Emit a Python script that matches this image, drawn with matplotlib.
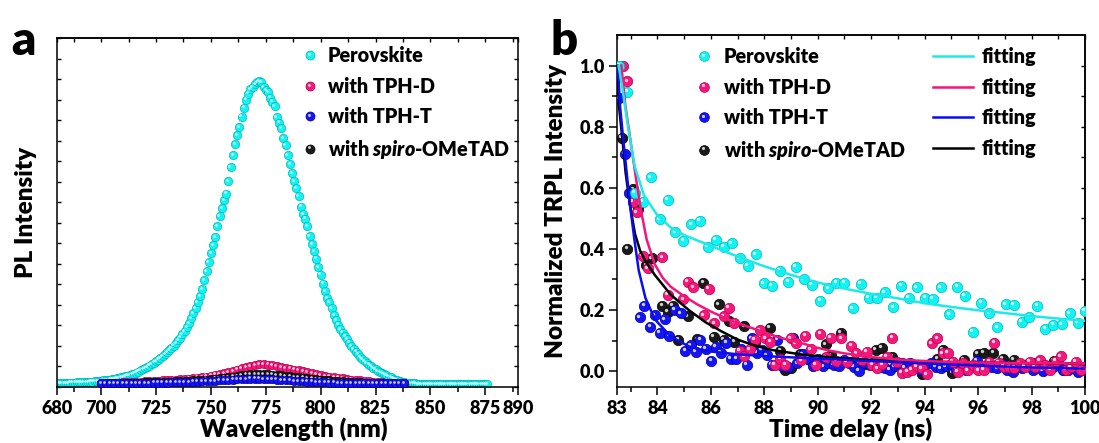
import numpy as np
import matplotlib
matplotlib.use("Agg")
import matplotlib.pyplot as plt
from matplotlib.transforms import offset_copy
from matplotlib.lines import Line2D
from matplotlib.legend_handler import HandlerBase

plt.rcParams['font.family'] = ['Lato', 'DejaVu Sans']
plt.rcParams['font.weight'] = 'heavy'
plt.rcParams['mathtext.fontset'] = 'custom'
plt.rcParams['mathtext.it'] = 'Lato:italic:heavy'
plt.rcParams['mathtext.rm'] = 'Lato:heavy'

# ---------------- data: panel a (PL spectra, normalised to perovskite peak) -------------
wl_perovskite = np.arange(680, 877, 1)
pl_perovskite = [
    0.000, 0.001, 0.001, 0.002, 0.002, 0.002, 0.003, 0.003, 0.003, 0.004,
    0.004, 0.004, 0.005, 0.005, 0.005, 0.006, 0.006, 0.007, 0.007, 0.008,
    0.009, 0.010, 0.011, 0.012, 0.013, 0.014, 0.015, 0.017, 0.018, 0.020,
    0.022, 0.024, 0.026, 0.028, 0.030, 0.033, 0.036, 0.039, 0.043, 0.047,
    0.051, 0.055, 0.059, 0.064, 0.069, 0.074, 0.079, 0.084, 0.090, 0.096,
    0.103, 0.110, 0.117, 0.125, 0.134, 0.143, 0.152, 0.162, 0.174, 0.187,
    0.200, 0.215, 0.232, 0.250, 0.270, 0.290, 0.312, 0.342, 0.372, 0.400,
    0.430, 0.458, 0.485, 0.520, 0.553, 0.580, 0.605, 0.628, 0.670, 0.715,
    0.755, 0.790, 0.822, 0.847, 0.882, 0.912, 0.938, 0.958, 0.972, 0.980,
    0.990, 0.996, 1.000, 0.995, 0.980, 0.970, 0.963, 0.945, 0.932, 0.918,
    0.880, 0.862, 0.845, 0.812, 0.787, 0.756, 0.725, 0.695, 0.670, 0.647,
    0.620, 0.585, 0.560, 0.545, 0.520, 0.487, 0.460, 0.437, 0.413, 0.385,
    0.360, 0.330, 0.305, 0.283, 0.268, 0.248, 0.225, 0.210, 0.195, 0.180,
    0.168, 0.157, 0.146, 0.135, 0.124, 0.114, 0.105, 0.097, 0.088, 0.080,
    0.073, 0.067, 0.062, 0.057, 0.052, 0.047, 0.042, 0.038, 0.034, 0.030,
    0.027, 0.023, 0.020, 0.016, 0.013, 0.010, 0.008, 0.006, 0.004, 0.003,
    0.002, 0.001, 0.000, 0.000, -0.001, -0.001, -0.001, -0.002, -0.002, -0.002,
    -0.002, -0.002, -0.003, -0.003, -0.003, -0.003, -0.003, -0.003, -0.003, -0.003,
    -0.003, -0.003, -0.003, -0.003, -0.003, -0.003, -0.003, -0.003, -0.003, -0.003,
    -0.003, -0.003, -0.003, -0.003, -0.003, -0.003, -0.003,
]
wl_htl = np.arange(700, 839, 2)
pl_tphd = [
    0.002, 0.002, 0.003, 0.003, 0.003, 0.004, 0.004, 0.005, 0.005, 0.006,
    0.007, 0.007, 0.008, 0.009, 0.010, 0.011, 0.012, 0.013, 0.014, 0.015,
    0.016, 0.017, 0.019, 0.021, 0.023, 0.026, 0.029, 0.032, 0.035, 0.038,
    0.042, 0.046, 0.050, 0.054, 0.058, 0.061, 0.063, 0.063, 0.062, 0.060,
    0.058, 0.055, 0.052, 0.049, 0.046, 0.043, 0.040, 0.037, 0.034, 0.031,
    0.028, 0.025, 0.023, 0.021, 0.019, 0.017, 0.015, 0.013, 0.011, 0.010,
    0.008, 0.007, 0.006, 0.005, 0.004, 0.003, 0.002, 0.001, 0.001, 0.000,
]
pl_spiro = [
    0.001, 0.001, 0.001, 0.002, 0.002, 0.002, 0.002, 0.003, 0.003, 0.003,
    0.004, 0.004, 0.004, 0.005, 0.005, 0.006, 0.006, 0.007, 0.008, 0.008,
    0.009, 0.010, 0.011, 0.012, 0.013, 0.014, 0.016, 0.017, 0.019, 0.021,
    0.023, 0.025, 0.027, 0.029, 0.030, 0.031, 0.031, 0.031, 0.030, 0.029,
    0.028, 0.027, 0.025, 0.024, 0.022, 0.021, 0.019, 0.017, 0.016, 0.014,
    0.013, 0.011, 0.010, 0.009, 0.008, 0.007, 0.006, 0.005, 0.004, 0.004,
    0.003, 0.003, 0.002, 0.002, 0.001, 0.001, 0.001, 0.000, 0.000, 0.000,
]
pl_tpht = [
    0.000, 0.000, 0.001, 0.001, 0.001, 0.001, 0.001, 0.002, 0.002, 0.002,
    0.002, 0.002, 0.003, 0.003, 0.003, 0.003, 0.004, 0.004, 0.004, 0.005,
    0.005, 0.006, 0.006, 0.007, 0.008, 0.008, 0.009, 0.010, 0.011, 0.012,
    0.013, 0.014, 0.015, 0.015, 0.016, 0.016, 0.016, 0.015, 0.015, 0.014,
    0.013, 0.012, 0.011, 0.010, 0.009, 0.008, 0.007, 0.006, 0.006, 0.005,
    0.004, 0.004, 0.003, 0.003, 0.002, 0.002, 0.002, 0.001, 0.001, 0.001,
    0.001, 0.000, 0.000, 0.000, 0.000, 0.000, 0.000, 0.000, 0.000, 0.000,
]
wl_major = [680, 700, 725, 750, 775, 800, 825, 850, 875, 890]
wl_minor = [687.5, 712.5, 737.5, 762.5, 787.5, 812.5, 837.5, 862.5, 887.5]

# ---------------- data: panel b (TRPL decays, (time ns, normalised intensity)) ----------
trpl_perovskite = [
    (82.57, 1.000), (82.87, 0.915), (83.16, 0.584), (83.46, 0.555), (83.76, 0.634),
    (84.08, 0.497), (84.38, 0.560), (84.67, 0.454), (84.97, 0.427), (85.27, 0.481),
    (85.59, 0.492), (85.89, 0.407), (86.18, 0.429), (86.49, 0.407), (86.78, 0.418),
    (87.08, 0.369), (87.38, 0.345), (87.69, 0.383), (87.99, 0.287), (88.28, 0.280),
    (88.58, 0.329), (88.89, 0.293), (89.18, 0.342), (89.48, 0.300), (89.78, 0.282),
    (90.10, 0.230), (90.39, 0.271), (90.69, 0.290), (90.99, 0.290), (91.30, 0.205),
    (91.61, 0.285), (91.90, 0.240), (92.20, 0.240), (92.51, 0.258), (92.82, 0.209),
    (93.12, 0.280), (93.41, 0.240), (93.71, 0.274), (94.02, 0.240), (94.31, 0.236),
    (94.61, 0.274), (94.92, 0.186), (95.22, 0.276), (95.51, 0.246), (95.81, 0.129),
    (96.12, 0.224), (96.41, 0.189), (96.71, 0.143), (97.03, 0.219), (97.33, 0.218),
    (97.63, 0.162), (97.92, 0.178), (98.22, 0.213), (98.51, 0.138), (98.81, 0.151),
    (99.13, 0.153), (99.43, 0.189), (99.73, 0.158), (99.99, 0.197),
]
trpl_tphd = [
    (82.70, 1.000), (82.87, 0.948), (83.07, 0.555), (83.23, 0.520), (83.46, 0.377),
    (83.63, 0.336), (84.18, 0.372), (84.38, 0.249), (84.97, 0.235), (85.14, 0.293),
    (85.34, 0.274), (85.73, 0.183), (85.92, 0.269), (86.12, 0.156), (86.49, 0.180),
    (86.68, 0.207), (86.88, 0.158), (87.08, 0.067), (87.25, 0.049), (87.45, 0.072),
    (87.64, 0.102), (87.84, 0.134), (88.03, 0.107), (88.22, 0.096), (88.39, 0.020),
    (88.59, 0.041), (88.79, 0.020), (88.98, 0.107), (89.18, 0.091), (89.38, 0.036),
    (89.53, 0.116), (89.74, 0.071), (89.92, 0.020), (90.10, 0.123), (90.29, 0.045),
    (90.49, 0.110), (90.69, 0.034), (90.88, 0.107), (91.08, 0.031), (91.25, 0.083),
    (91.44, 0.058), (91.64, 0.038), (91.84, 0.063), (92.04, 0.020), (92.23, 0.009),
    (92.42, 0.022), (92.59, 0.047), (92.79, 0.110), (92.98, 0.031), (93.15, -0.005),
    (93.35, -0.002), (93.51, 0.005), (93.71, 0.016), (93.90, 0.009), (94.08, -0.010),
    (94.27, 0.091), (94.47, 0.107), (94.67, 0.058), (94.86, 0.060), (95.06, 0.031),
    (95.24, -0.002), (95.44, 0.025), (95.61, 0.003), (95.81, 0.020), (96.01, 0.003),
    (96.21, 0.005), (96.41, 0.031), (96.60, 0.093), (96.77, 0.027), (96.97, 0.014),
    (97.17, 0.012), (97.35, 0.011), (97.55, 0.025), (97.74, 0.014), (97.94, 0.031),
    (98.11, 0.012), (98.31, 0.036), (98.51, 0.020), (98.70, 0.005), (98.90, 0.034),
    (99.10, 0.049), (99.27, 0.005), (99.46, 0.012), (99.66, 0.031), (99.84, 0.005),
]
trpl_tpht = [
    (82.57, 0.893), (82.77, 0.711), (82.94, 0.582), (83.34, 0.176), (83.51, 0.214),
    (83.73, 0.145), (83.90, 0.183), (84.08, 0.126), (84.28, 0.169), (84.45, 0.115),
    (84.65, 0.200), (84.87, 0.189), (85.04, 0.067), (85.24, 0.085), (85.44, 0.063),
    (85.61, 0.102), (85.81, 0.074), (86.01, 0.033), (86.18, 0.080), (86.38, 0.060),
    (86.58, 0.093), (86.75, 0.041), (86.95, 0.041), (87.14, 0.071), (87.34, 0.020),
    (87.53, 0.107), (87.71, 0.060), (87.90, 0.069), (88.10, 0.052), (88.28, 0.020),
    (88.49, 0.102), (88.67, 0.016), (88.87, 0.014), (89.07, 0.109), (89.24, 0.025),
    (89.44, 0.055), (89.64, 0.041), (89.84, 0.016), (90.01, 0.041), (90.20, 0.016),
    (90.40, 0.027), (90.60, 0.020), (90.78, 0.016), (90.98, 0.038), (91.18, 0.027),
    (91.34, 0.014), (91.54, 0.001), (91.74, 0.025), (91.94, 0.020), (92.11, 0.031),
    (92.31, 0.014), (92.51, 0.009), (92.69, 0.005), (92.89, 0.016), (93.09, 0.023),
    (93.26, 0.012), (93.45, 0.027), (93.65, 0.014), (93.85, 0.005), (94.02, 0.020),
    (94.22, 0.025), (94.41, 0.014), (94.61, 0.009), (94.79, 0.016), (94.99, 0.023),
    (95.18, 0.003), (95.36, 0.020), (95.55, 0.003), (95.75, 0.014), (95.94, 0.034),
    (96.14, 0.009), (96.31, 0.016), (96.51, 0.014), (96.71, 0.009), (96.90, 0.023),
    (97.09, 0.003), (97.29, -0.002), (97.46, 0.014), (97.66, 0.009), (97.85, 0.023),
    (98.05, 0.005), (98.22, 0.020), (98.42, 0.001), (98.61, 0.016), (98.81, 0.012),
    (98.99, 0.025), (99.18, 0.005), (99.38, 0.003), (99.55, 0.014), (99.75, -0.002),
    (99.95, 0.005),
]
trpl_spiro = [
    (82.67, 0.764), (82.87, 0.400), (83.09, 0.595), (83.26, 0.530), (83.59, 0.347),
    (83.79, 0.369), (84.18, 0.213), (84.38, 0.194), (84.58, 0.213), (84.78, 0.102),
    (85.14, 0.180), (85.50, 0.104), (85.72, 0.289), (86.10, 0.112), (86.30, 0.219),
    (86.49, 0.102), (86.68, 0.165), (86.88, 0.096), (87.25, 0.147), (87.67, 0.096),
    (88.20, 0.142), (88.59, 0.067), (88.79, 0.003), (88.98, 0.009), (89.34, 0.056),
    (89.70, 0.038), (90.29, 0.088), (90.49, 0.052), (90.86, 0.126), (91.25, 0.031),
    (91.81, 0.023), (92.18, 0.069), (92.40, 0.076), (92.79, 0.047), (93.15, 0.025),
    (93.90, -0.008), (94.47, 0.041), (94.67, 0.069), (95.03, -0.005), (95.46, 0.038),
    (95.99, 0.056), (96.21, 0.060), (96.57, 0.060), (96.93, 0.041), (97.33, 0.038),
    (97.66, 0.016), (98.05, 0.025), (98.42, 0.014), (98.84, 0.034), (99.23, 0.005),
    (99.62, 0.009),
]
# fitted decay curves
fit_perovskite = [
    (82.55, 1.0), (82.7, 0.92), (82.9, 0.80), (83.15, 0.67), (83.5, 0.575), (84.0, 0.51),
    (84.5, 0.47), (85.0, 0.445), (86.0, 0.41), (87.0, 0.375), (88.0, 0.343), (89.0, 0.315),
    (90.0, 0.29), (91.0, 0.27), (92.0, 0.253), (93.0, 0.238), (94.0, 0.222), (95.0, 0.21),
    (96.0, 0.199), (97.0, 0.19), (98.0, 0.18), (99.0, 0.172), (100.0, 0.165),
]
fit_tphd = [
    (82.65, 1.0), (82.8, 0.87), (83.0, 0.75), (83.2, 0.63), (83.4, 0.52), (83.6, 0.43),
    (83.9, 0.35), (84.2, 0.305), (84.5, 0.276), (85.0, 0.245), (85.5, 0.218), (86.0, 0.195),
    (86.5, 0.175), (87.0, 0.157), (87.5, 0.142), (88.0, 0.127), (88.5, 0.112), (89.0, 0.1),
    (89.5, 0.089), (90.0, 0.076), (90.5, 0.066), (91.0, 0.058), (92.0, 0.046), (93.0, 0.038),
    (94.0, 0.033), (95.0, 0.030), (96.0, 0.028), (98.0, 0.026), (100.0, 0.025),
]
fit_tpht = [
    (82.52, 1.0), (82.6, 0.87), (82.72, 0.76), (82.85, 0.65), (82.98, 0.54), (83.14, 0.43),
    (83.3, 0.33), (83.55, 0.24), (83.9, 0.170), (84.5, 0.113), (85.2, 0.08), (85.8, 0.066),
    (87.0, 0.055), (88.3, 0.048), (89.5, 0.043), (90.8, 0.038), (92.0, 0.033), (94.0, 0.025),
    (96.0, 0.018), (98.0, 0.012), (100.0, 0.008),
]
fit_spiro = [
    (82.5, 1.0), (82.56, 0.87), (82.69, 0.76), (82.81, 0.65), (82.98, 0.54), (83.16, 0.45),
    (83.35, 0.395), (83.55, 0.36), (83.9, 0.315), (84.5, 0.25), (85.2, 0.198), (85.8, 0.16),
    (86.4, 0.13), (87.0, 0.103), (87.6, 0.085), (88.3, 0.069), (89.5, 0.053), (90.8, 0.043),
    (92.0, 0.037), (94.0, 0.031), (96.0, 0.028), (98.0, 0.026), (100.0, 0.025),
]
t_major = [82.5, 84, 86, 88, 90, 92, 94, 96, 98, 100]
t_major_labels = ['83', '84', '86', '88', '90', '92', '94', '96', '98', '100']
t_minor = [83, 85, 87, 89, 91, 93, 95, 97, 99]

labels = ['Perovskite', 'with TPH-D', 'with TPH-T', r'with $\mathit{spiro}$-OMeTAD']
colors = ['#10f4f4', '#f7177b', '#1414f5', '#1a1a1a']
edges = ['#00b8b8', '#b0004c', '#00009a', '#000000']
fit_colors = ['#1ceaea', '#f5157a', '#0c0cf0', '#000000']

# ---------------- helpers ----------------
fig = plt.figure(figsize=(10.99, 4.43), dpi=100)


def balls(ax, x, y, color, edge, ms, z):
    ax.plot(x, y, ls='none', marker='o', ms=ms, mfc=color, mec=edge, mew=0.5, zorder=z)
    tr = offset_copy(ax.transData, fig=fig, x=-ms * 0.15, y=ms * 0.15, units='points')
    ax.plot(x, y, ls='none', marker='o', ms=ms * 0.32, mfc='white', mec='none',
            alpha=0.8, transform=tr, zorder=z + 0.01)


class BallHandler(HandlerBase):
    def __init__(self, color, edge, ms):
        super().__init__()
        self.c, self.e, self.ms = color, edge, ms

    def create_artists(self, legend, orig_handle, xdescent, ydescent, width, height,
                       fontsize, trans):
        cx = width / 2 - xdescent
        cy = height / 2 - ydescent
        d = self.ms * 0.15
        a = Line2D([cx], [cy], ls='none', marker='o', ms=self.ms, mfc=self.c,
                   mec=self.e, mew=0.5, transform=trans)
        b = Line2D([cx - d], [cy + d], ls='none', marker='o', ms=self.ms * 0.32,
                   mfc='white', mec='none', alpha=0.8, transform=trans)
        return [a, b]


TICK_FS = 13
LAB_FS = 17.5
LEG_FS = 14.2
W = 'heavy'

# ---------------- panel a ----------------
axa = fig.add_axes([0.0521, 0.1264, 0.4194, 0.7878])
Y_LO, Y_HI = -0.0116, 1.142
balls(axa, wl_perovskite, pl_perovskite, colors[0], edges[0], 6, 2)
balls(axa, wl_htl, pl_tphd, colors[1], edges[1], 6, 3)
balls(axa, wl_htl, pl_spiro, colors[3], edges[3], 6, 4)
balls(axa, wl_htl, pl_tpht, colors[2], edges[2], 6, 5)
axa.set_xlim(680, 890)
axa.set_ylim(Y_LO, Y_HI)
axa.set_xticks(wl_major)
axa.set_xticklabels([str(v) for v in wl_major], fontweight=W)
axa.set_xticks(wl_minor, minor=True)
axa.set_yticks(np.linspace(Y_LO, Y_HI, 18))
axa.set_yticklabels([])
axa.tick_params(axis='x', which='major', direction='out', length=6, width=1.1,
                labelsize=TICK_FS, pad=3)
axa.tick_params(axis='x', which='minor', direction='out', length=3.5, width=1.1)
axa.tick_params(axis='y', which='both', direction='in', length=3, width=1.0,
                left=True, right=True)
sa = axa.secondary_xaxis('top')
sa.set_xticks(wl_major)
sa.set_xticks(wl_minor, minor=True)
sa.tick_params(axis='x', which='both', direction='in', length=3, width=1.0, labeltop=False)
for sp in list(axa.spines.values()) + list(sa.spines.values()):
    sp.set_linewidth(1.1)
axa.set_xlabel('Wavelength (nm)', fontsize=LAB_FS, fontweight=W)
axa.xaxis.set_label_coords(0.5125, -0.087)
axa.set_ylabel('PL Intensity', fontsize=LAB_FS, fontweight=W)
axa.yaxis.set_label_coords(-0.043, 0.5)

ha = [Line2D([], []) for _ in range(4)]
hm = {h: BallHandler(colors[i], edges[i], 6.5) for i, h in enumerate(ha)}
axa.legend(ha, labels, handler_map=hm, loc='upper left', bbox_to_anchor=(0.528, 0.976),
           frameon=False, prop={'size': LEG_FS, 'weight': W}, borderpad=0, borderaxespad=0,
           handlelength=1.0, handletextpad=0.39, labelspacing=0.58)

# ---------------- panel b ----------------
axb = fig.add_axes([0.5617, 0.1264, 0.4256, 0.7946])
order = [3, 2, 1, 0]
pts = [trpl_perovskite, trpl_tphd, trpl_tpht, trpl_spiro]
fits = [fit_perovskite, fit_tphd, fit_tpht, fit_spiro]
for k, i in enumerate(order):
    t, v = zip(*pts[i])
    balls(axb, t, v, colors[i], edges[i], 7.5, 2 + k)
for i in order:
    t, v = zip(*fits[i])
    axb.plot(t, v, color=fit_colors[i], lw=1.8, zorder=10, solid_joinstyle='round')
axb.set_xlim(82.5, 100)
axb.set_ylim(-0.052, 1.1)
axb.set_xticks(t_major)
axb.set_xticklabels(t_major_labels, fontweight=W)
axb.set_xticks(t_minor, minor=True)
axb.set_yticks([0.0, 0.2, 0.4, 0.6, 0.8, 1.0])
axb.set_yticklabels(['0.0', '0.2', '0.4', '0.6', '0.8', '1.0'], fontweight=W)
axb.set_yticks([0.1, 0.3, 0.5, 0.7, 0.9], minor=True)
axb.tick_params(which='major', direction='out', length=6, width=1.1, labelsize=TICK_FS, pad=3)
axb.tick_params(which='minor', direction='out', length=3.5, width=1.1)
sbx = axb.secondary_xaxis('top')
sbx.set_xticks(t_major)
sbx.set_xticks(t_minor, minor=True)
sbx.tick_params(which='both', direction='in', length=3, width=1.0, labeltop=False)
sby = axb.secondary_yaxis('right')
sby.set_yticks([0.0, 0.2, 0.4, 0.6, 0.8, 1.0])
sby.set_yticks([0.1, 0.3, 0.5, 0.7, 0.9], minor=True)
sby.tick_params(which='both', direction='in', length=3, width=1.0, labelright=False)
for sp in list(axb.spines.values()) + list(sbx.spines.values()) + list(sby.spines.values()):
    sp.set_linewidth(1.1)
axb.set_xlabel('Time delay (ns)', fontsize=LAB_FS, fontweight=W)
axb.xaxis.set_label_coords(0.498, -0.086)
axb.set_ylabel('Normalized TRPL Intensity', fontsize=LAB_FS, fontweight=W)
axb.yaxis.set_label_coords(-0.1075, 0.5)

hb = [Line2D([], []) for _ in range(4)]
hmb = {h: BallHandler(colors[i], edges[i], 7) for i, h in enumerate(hb)}
leg1 = axb.legend(hb, labels, handler_map=hmb, loc='upper left',
                  bbox_to_anchor=(0.165, 0.965), frameon=False,
                  prop={'size': LEG_FS, 'weight': W},
                  borderpad=0, borderaxespad=0, handlelength=1.0, handletextpad=0.48,
                  labelspacing=0.58)
axb.add_artist(leg1)
hl = [Line2D([], [], color=fit_colors[i], lw=1.8) for i in range(4)]
axb.legend(hl, ['fitting'] * 4, loc='upper left', bbox_to_anchor=(0.674, 0.965),
           frameon=False, prop={'size': LEG_FS, 'weight': W}, borderpad=0, borderaxespad=0,
           handlelength=2.03, handletextpad=0.48, labelspacing=0.58)

fig.text(0.010, 1 - 55 / 443, 'a', fontsize=34, fontweight=W, va='baseline')
fig.text(0.501, 1 - 55 / 443, 'b', fontsize=34, fontweight=W, va='baseline')

fig.savefig('out.png', dpi=100)
